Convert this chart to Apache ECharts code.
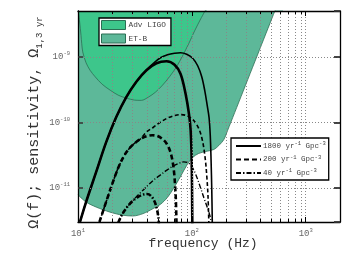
<!DOCTYPE html>
<html><head><meta charset="utf-8">
<script src="https://cdn.jsdelivr.net/npm/echarts@6/dist/echarts.min.js"></script>
<style>html,body{margin:0;padding:0;background:#fff}#c{width:350px;height:264px}</style>
</head><body><div id="c"></div>
<script>
// ---- axis ranges & ticks ----
const X_MIN = 10, X_MAX = 2000, Y_MIN = 3e-12, Y_MAX = 5e-9;
const minorX = [20,30,40,50,60,70,80,90,200,300,400,500,600,700,800,900];

// ---- detector sensitivity curves ----
const advLigoF = [10, 10.31, 10.63, 11.0, 11.77, 12.76, 14.13, 16.29, 19.17, 22.56, 26.55, 31.23, 36.02, 41.53, 47.88, 55.21, 63.66, 73.42, 82.94, 93.70, 105.8, 119.6, 135.1];
const advLigoO = [5.38e-9, 3.53e-9, 2.11e-9, 1.19e-9, 8.10e-10, 6.23e-10, 4.96e-10, 3.81e-10, 3.09e-10, 2.59e-10, 2.34e-10, 2.18e-10, 2.16e-10, 2.42e-10, 2.88e-10, 3.68e-10, 4.96e-10, 7.04e-10, 1.036e-9, 1.577e-9, 2.49e-9, 3.79e-9, 5.57e-9];
const etbF = [10, 11.77, 14.42, 18.90, 24.83, 30.42, 37.29, 45.70, 53.02, 61.13, 69.06, 79.62, 89.99, 101.6, 114.8, 132.4, 155.8, 172.5, 190.9, 205.9, 631];
const etbO = [7.80e-12, 6.05e-12, 5.08e-12, 4.27e-12, 3.80e-12, 3.71e-12, 4.03e-12, 4.81e-12, 5.59e-12, 7.14e-12, 9.79e-12, 1.491e-11, 2.19e-11, 2.90e-11, 3.34e-11, 3.58e-11, 3.84e-11, 4.42e-11, 5.45e-11, 7.48e-11, 1.03e-8];

// ---- background spectra (a = heavy line, b = light line) ----
const r1800aF = [10.41, 11.77, 14.42, 17.68, 21.67, 26.55, 32.54, 39.88, 48.87, 59.91, 70.48, 79.62, 88.15, 94.3, 97.59, 99.6, 101.0];
const r1800aO = [3.01e-12, 6.05e-12, 1.73e-11, 4.97e-11, 1.20e-10, 2.42e-10, 4.16e-10, 6.24e-10, 7.97e-10, 8.54e-10, 7.56e-10, 5.46e-10, 2.70e-10, 1.34e-10, 7.48e-11, 2.61e-11, 2.5e-12];
const r1800bF = [10.41, 11.77, 14.42, 17.68, 21.67, 26.55, 32.54, 39.88, 45.97, 53.02, 61.13, 70.48, 79.62, 89.99, 101.6, 112.5, 122.1, 129.8, 136.5, 141.6, 145.1, 147.5, 149.6, 151.4];
const r1800bO = [3.01e-12, 6.05e-12, 1.73e-11, 4.97e-11, 1.20e-10, 2.42e-10, 4.16e-10, 6.24e-10, 7.97e-10, 9.66e-10, 1.073e-9, 1.130e-9, 1.151e-9, 1.091e-9, 9.49e-10, 7.29e-10, 4.96e-10, 3.04e-10, 1.795e-10, 1.179e-10, 6.27e-11, 2.61e-11, 9.12e-12, 2.5e-12];
const r200aF = [15.43, 16.97, 18.79, 20.80, 23.02, 25.49, 28.21, 31.23, 35.30, 39.88, 45.05, 49.88, 55.21, 59.91, 63.66, 66.99, 69.49, 71.22, 72.38, 73.42];
const r200aO = [3.01e-12, 4.94e-12, 8.36e-12, 1.39e-11, 2.19e-11, 3.11e-11, 3.98e-11, 4.74e-11, 5.55e-11, 6.12e-11, 6.34e-11, 6.16e-11, 5.55e-11, 4.74e-11, 3.84e-11, 2.80e-11, 1.84e-11, 1.088e-11, 6.43e-12, 2.5e-12];
const r200bF = [15.43, 16.97, 18.79, 20.80, 23.02, 25.49, 28.21, 31.23, 35.30, 39.88, 45.97, 53.02, 61.13, 70.48, 79.62, 89.99, 99.6, 108.1, 116.0, 122.1, 127.1, 131.6, 135.1, 138.5, 141.3];
const r200bO = [3.01e-12, 4.94e-12, 8.36e-12, 1.39e-11, 2.19e-11, 3.11e-11, 3.98e-11, 4.74e-11, 5.55e-11, 7.10e-11, 8.39e-11, 1.007e-10, 1.159e-10, 1.265e-10, 1.31e-10, 1.265e-10, 1.138e-10, 9.72e-11, 7.74e-11, 5.85e-11, 4.12e-11, 2.61e-11, 1.544e-11, 7.66e-12, 2.5e-12];
const r40aF = [22.56, 24.47, 27.09, 29.99, 33.20, 36.76, 40.29, 43.70, 46.93, 49.37, 50.89, 51.52];
const r40aO = [2.92e-12, 3.94e-12, 5.12e-12, 6.21e-12, 7.14e-12, 7.80e-12, 8.04e-12, 7.53e-12, 6.21e-12, 4.69e-12, 3.42e-12, 2.5e-12];
const r40bF = [22.56, 24.47, 27.09, 29.99, 33.20, 36.76, 41.53, 46.93, 53.02, 59.91, 67.67, 76.44, 84.66, 91.83, 99.6, 108.1, 117.2, 127.1, 136.5, 143.6, 148.1, 149.6];
const r40bO = [2.92e-12, 3.94e-12, 5.12e-12, 6.21e-12, 7.53e-12, 8.97e-12, 1.107e-11, 1.342e-11, 1.571e-11, 1.84e-11, 2.12e-11, 2.35e-11, 2.48e-11, 2.43e-11, 2.12e-11, 1.60e-11, 1.088e-11, 7.14e-12, 5.03e-12, 3.80e-12, 2.97e-12, 2.4e-12];

const detNames = ['Adv LIGO', 'ET-B'];
const rateNames = ['1800', '200', '40'];

const MONO = '"Liberation Mono","DejaVu Sans Mono",monospace';
const LIGO_C = '#3dc68b', ETB_C = '#5db899', EDGE_C = '#2c6e54';
const pair = (f, o) => f.map((v, i) => [v, o[i]]);
const isPow = v => Math.abs(Math.log10(v) - Math.round(Math.log10(v))) < 1e-6;
const powLabel = v => isPow(v) ? '{b|10}{s|' + Math.round(Math.log10(v)) + '}' : '';
const tickRich = {
  b: {fontSize: 9, fontFamily: MONO, color: '#666', lineHeight: 12, verticalAlign: 'middle'},
  s: {fontSize: 5.5, fontFamily: MONO, color: '#666', lineHeight: 12, verticalAlign: 'top'}
};

function curve(name, f, o, width, dash, z) {
  return {
    type: 'line', name, data: pair(f, o), symbol: 'none', showSymbol: false,
    smooth: 0.35, clip: true, z, silent: true,
    lineStyle: {color: '#000', width, type: dash, cap: 'butt'},
    itemStyle: {color: '#000'}
  };
}

const chart = echarts.init(document.getElementById('c'), null, {renderer: 'canvas'});
chart.setOption({
  animation: false,
  backgroundColor: '#fff',
  grid: {left: 78, right: 10, top: 11, bottom: 42, show: false},
  legend: [
    {
      data: [
        {name: detNames[0], itemStyle: {color: LIGO_C, borderColor: EDGE_C, borderWidth: 1}},
        {name: detNames[1], itemStyle: {color: ETB_C, borderColor: EDGE_C, borderWidth: 1}}
      ],
      icon: 'rect', orient: 'vertical', left: 99, top: 18, itemWidth: 24, itemHeight: 9, itemGap: 3.5,
      padding: [2, 5, 2, 2], borderColor: '#000', borderWidth: 1.3, backgroundColor: '#fff', z: 20,
      selectedMode: false,
      textStyle: {fontFamily: MONO, fontSize: 7.8, color: '#444', padding: [0, 0, 0, -2]}
    },
    {
      data: rateNames, orient: 'vertical', left: 231, top: 138, itemWidth: 25, itemHeight: 8, itemGap: 4.5,
      padding: [3, 3, 3, 4], borderColor: '#000', borderWidth: 1.3, backgroundColor: '#fff', z: 20,
      selectedMode: false,
      itemStyle: {color: 'rgba(0,0,0,0)', borderWidth: 0, opacity: 0},
      formatter: n => '{t|' + n + ' yr}{s|-1}{t| Gpc}{s|-3}',
      textStyle: {
        padding: [0, 0, 0, -3],
        rich: {
          t: {fontFamily: MONO, fontSize: 7.5, color: '#444', lineHeight: 10, verticalAlign: 'middle'},
          s: {fontFamily: MONO, fontSize: 5.5, color: '#444', lineHeight: 10, verticalAlign: 'top'}
        }
      }
    }
  ],
  xAxis: [
    {
      type: 'log', logBase: 10, min: X_MIN, max: X_MAX, z: 10, position: 'bottom',
      axisLine: {show: true, lineStyle: {color: '#000', width: 1.3}},
      axisTick: {show: true, inside: true, length: 5, lineStyle: {color: '#000', width: 1}},
      axisLabel: {formatter: powLabel, rich: tickRich, margin: 6, showMinLabel: true, showMaxLabel: false},
      splitLine: {show: true, lineStyle: {color: '#888', width: 1, type: [1, 2]}},
      name: 'frequency (Hz)', nameLocation: 'middle', nameGap: 15, nameMoveOverlap: false,
      nameTextStyle: {fontFamily: MONO, fontSize: 13, color: '#333', padding: [0, 12, 0, 0]}
    },
    {
      type: 'log', logBase: 10, min: X_MIN, max: X_MAX, z: 10, position: 'top',
      axisLine: {show: true, lineStyle: {color: '#000', width: 1.3}},
      axisTick: {show: true, inside: true, length: 5, lineStyle: {color: '#000', width: 1}},
      axisLabel: {show: false}, splitLine: {show: false}
    }
  ],
  yAxis: [
    {
      type: 'log', logBase: 10, min: Y_MIN, max: Y_MAX, z: 10, position: 'left',
      axisLine: {show: true, lineStyle: {color: '#000', width: 1.3}},
      axisTick: {show: true, inside: true, length: 5, lineStyle: {color: '#333', width: 1.5}},
      axisLabel: {formatter: powLabel, rich: tickRich, margin: 8, showMinLabel: false, showMaxLabel: false},
      splitLine: {show: true, lineStyle: {color: '#888', width: 1, type: [1, 2]}},
      name: '{a|Ω(f); sensitivity, Ω}{u|1,3 yr}', nameLocation: 'middle', nameRotate: 90, nameGap: 34,
      nameMoveOverlap: false,
      nameTextStyle: {
        padding: [0, 12, 0, 0],
        rich: {
          a: {fontFamily: MONO, fontSize: 15, color: '#333', lineHeight: 19, verticalAlign: 'middle'},
          u: {fontFamily: MONO, fontSize: 9, color: '#333', lineHeight: 19, verticalAlign: 'bottom'}
        }
      }
    },
    {
      type: 'log', logBase: 10, min: Y_MIN, max: Y_MAX, z: 10, position: 'right',
      axisLine: {show: true, lineStyle: {color: '#000', width: 1.3}},
      axisTick: {show: true, inside: true, length: 6, lineStyle: {color: '#333', width: 1.8}},
      axisLabel: {show: false}, splitLine: {show: false}
    }
  ],
  series: [
    {
      type: 'line', name: detNames[1], data: pair(etbF, etbO), symbol: 'none', smooth: 0.3, clip: true, z: 1, silent: true,
      lineStyle: {color: EDGE_C, width: 0.8}, itemStyle: {color: ETB_C},
      areaStyle: {color: ETB_C, opacity: 1, origin: 'end'}
    },
    {
      type: 'line', name: detNames[0], data: pair(advLigoF, advLigoO), symbol: 'none', smooth: 0.3, clip: true, z: 2, silent: true,
      lineStyle: {color: EDGE_C, width: 0.8}, itemStyle: {color: LIGO_C},
      areaStyle: {color: LIGO_C, opacity: 1, origin: 'end'}
    },
    {
      type: 'custom', z: 3, silent: true, clip: false,
      data: minorX.map(v => [v, Y_MIN]),
      encode: {x: 0, y: 1},
      renderItem: (params, api) => {
        const v = api.value(0);
        const b = api.coord([v, Y_MIN]), t = api.coord([v, Y_MAX]);
        const x = Math.round(b[0]) + 0.5;
        return {type: 'group', children: [
          {type: 'line', shape: {x1: x, y1: b[1], x2: x, y2: t[1]}, style: {stroke: '#888', lineWidth: 1, lineDash: [1, 2]}},
          {type: 'line', shape: {x1: x, y1: b[1], x2: x, y2: b[1] - 3}, style: {stroke: '#000', lineWidth: 1}},
          {type: 'line', shape: {x1: x, y1: t[1], x2: x, y2: t[1] + 3}, style: {stroke: '#000', lineWidth: 1}}
        ]};
      }
    },
    curve(rateNames[0], r1800aF, r1800aO, 2.6, 'solid', 6),
    curve(rateNames[0], r1800bF, r1800bO, 1.6, 'solid', 6),
    curve(rateNames[1], r200aF, r200aO, 2.6, [5, 3], 6),
    curve(rateNames[1], r200bF, r200bO, 1.6, [4, 2.5], 6),
    curve(rateNames[2], r40aF, r40aO, 2.6, [5, 2, 1.5, 2], 6),
    curve(rateNames[2], r40bF, r40bO, 1.4, [5, 2, 1, 2], 6)
  ]
});
</script></body></html>
